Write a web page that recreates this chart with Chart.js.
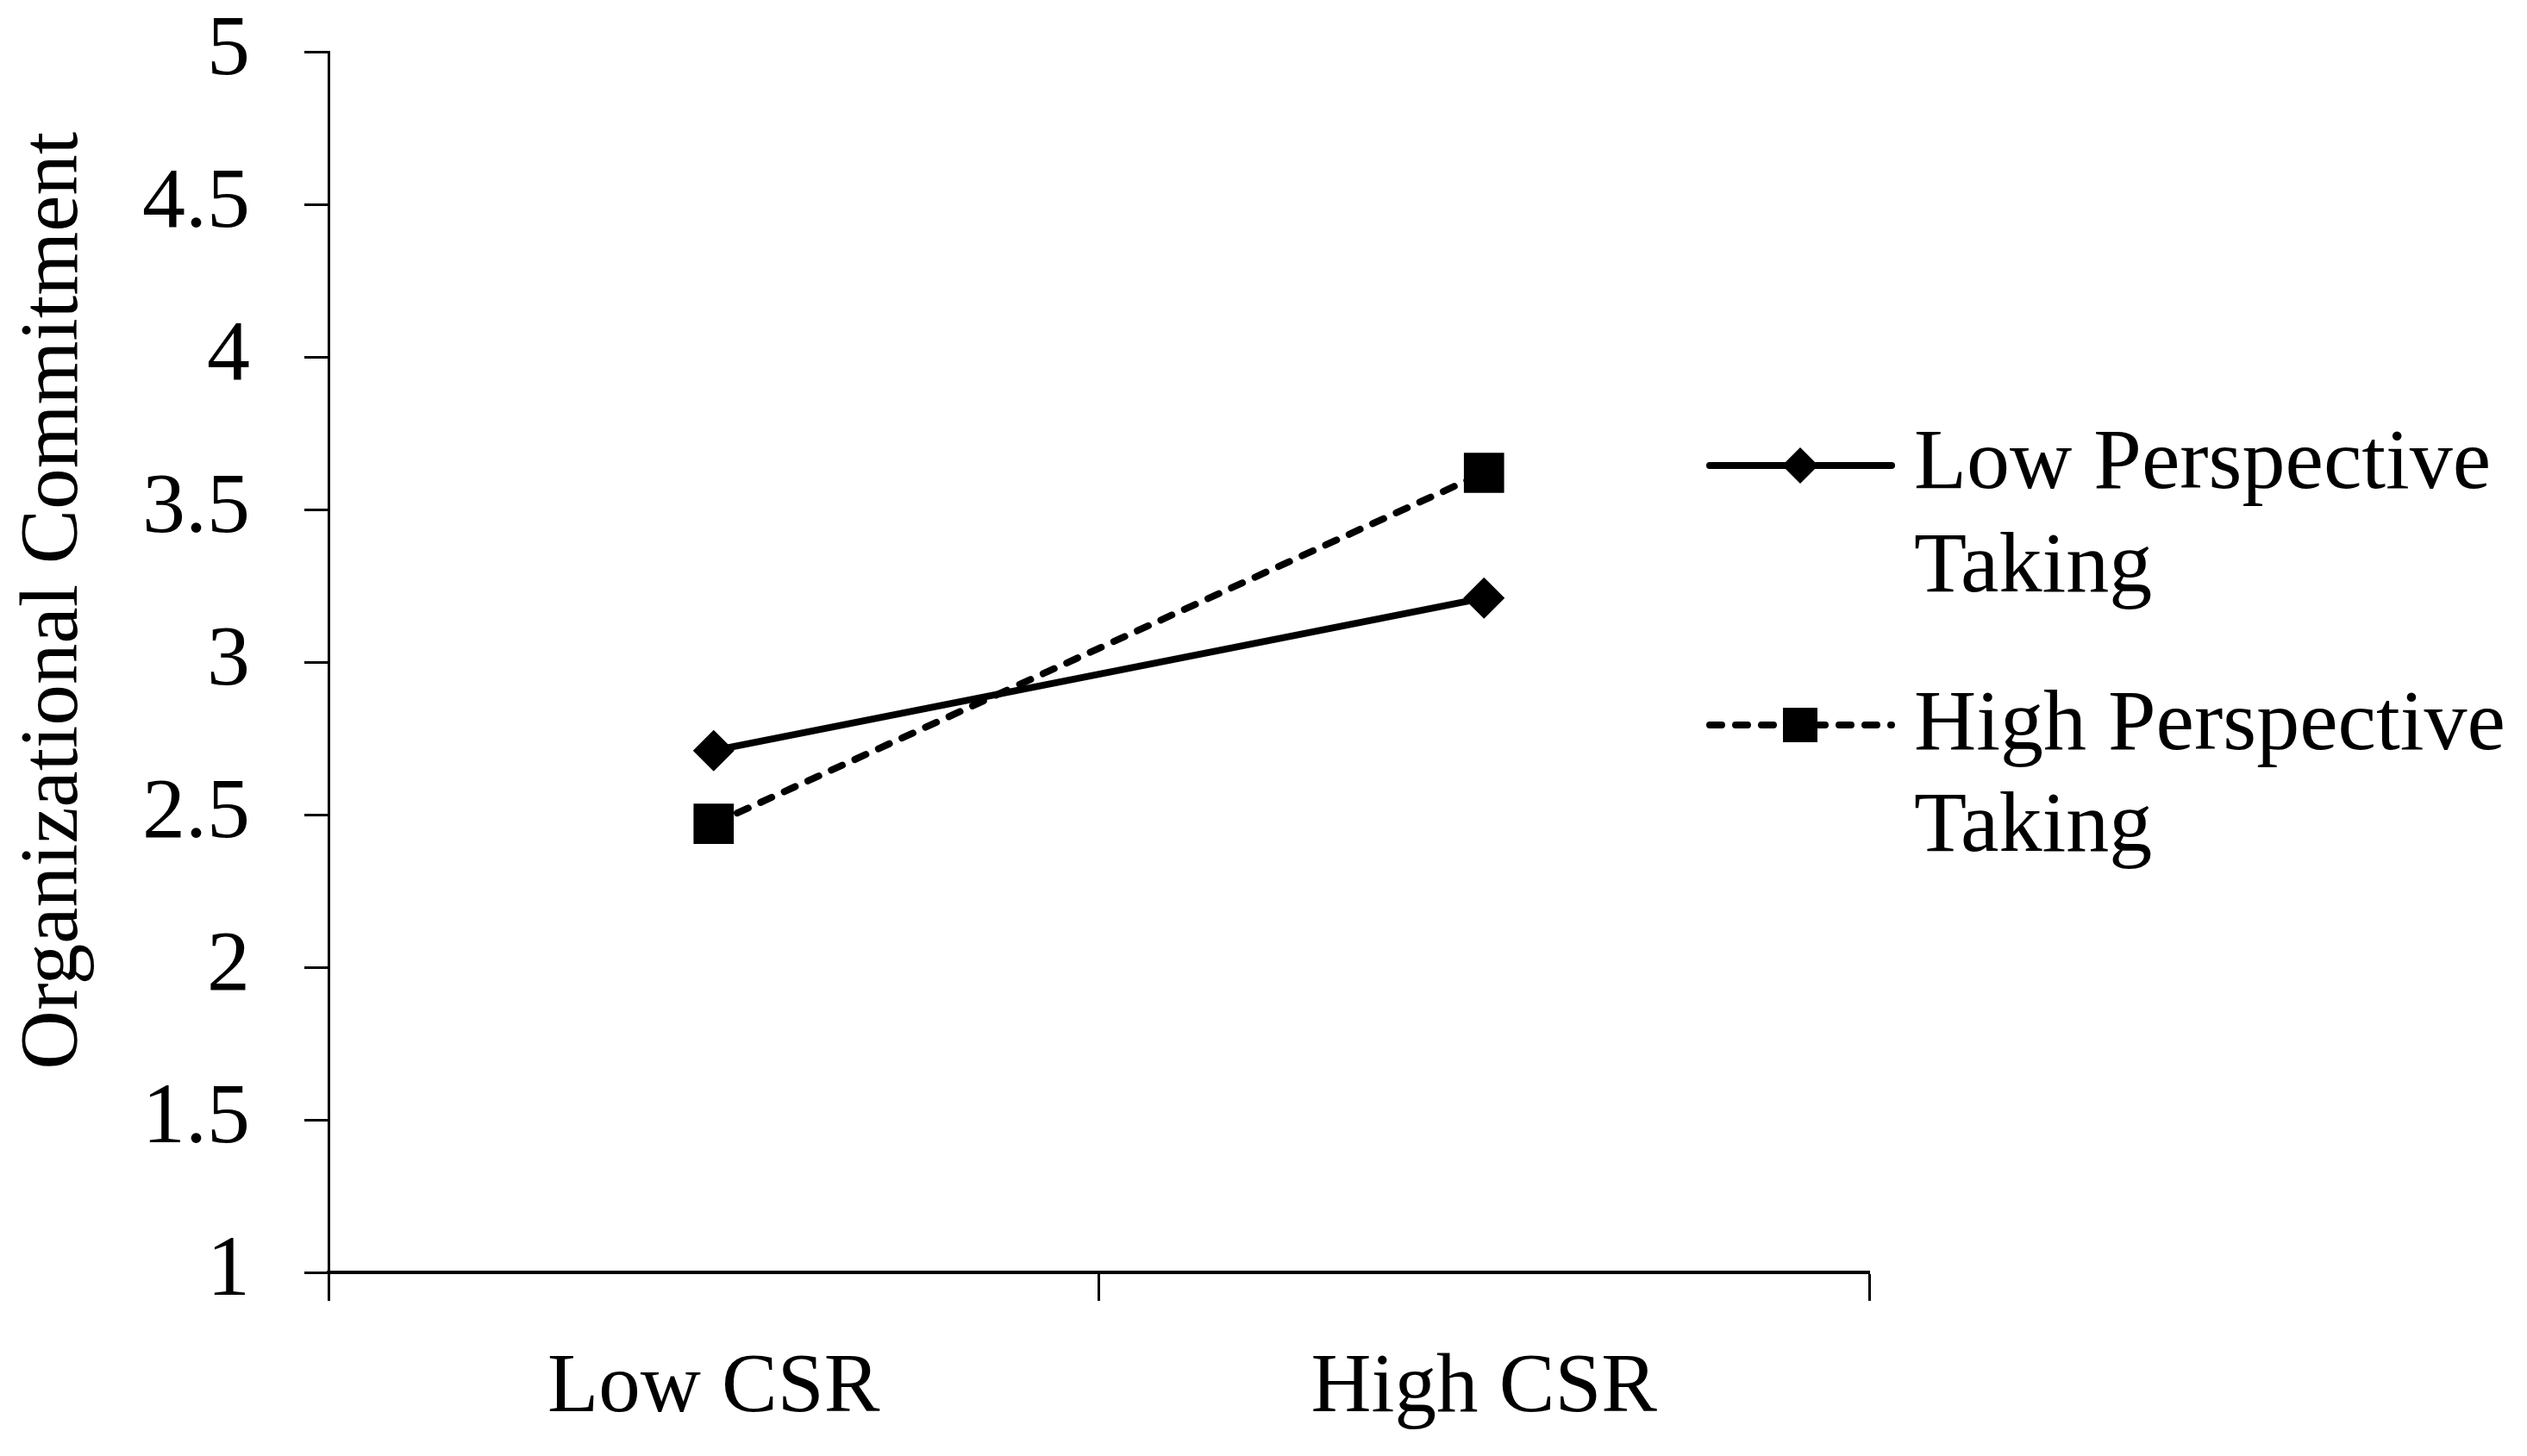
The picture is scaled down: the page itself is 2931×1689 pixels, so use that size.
<!DOCTYPE html>
<html>
<head>
<meta charset="utf-8">
<script src="https://cdn.jsdelivr.net/npm/chart.js@4/dist/chart.umd.min.js"></script>
<style>
  html, body { margin: 0; padding: 0; background: #fff; }
  #wrap { width: 2931px; height: 1689px; }
</style>
</head>
<body>
<div id="wrap"><canvas id="chart" width="2931" height="1689"></canvas></div>
<script>
// chart data
const categories = ['Low CSR', 'High CSR'];
const lowPT = [2.71, 3.21];
const highPT = [2.47, 3.62];
const seriesNames = ['Low Perspective Taking', 'High Perspective Taking'];
const legendLines = [['Low Perspective', 'Taking'], ['High Perspective', 'Taking']];
const yTicks = [1, 1.5, 2, 2.5, 3, 3.5, 4, 4.5, 5];
const yTickLabels = ['1', '1.5', '2', '2.5', '3', '3.5', '4', '4.5', '5'];
const yTitle = 'Organizational Commitment';

const FONT = "'Liberation Serif', 'Times New Roman', serif";

// legend drawn at the right, two lines per entry
const sideLegend = {
    id: 'sideLegend',
    afterDraw(chart) {
        const ctx = chart.ctx;
        const rows = [
            { y: 540, base: [566, 686] },
            { y: 841, base: [869, 987] }
        ];
        chart.data.datasets.forEach((ds, i) => {
            const r = rows[i];
            ctx.save();
            ctx.strokeStyle = ds.borderColor;
            ctx.lineWidth = 8;
            ctx.lineCap = 'round';
            ctx.setLineDash(ds.borderDash || []);
            ctx.beginPath();
            ctx.moveTo(1983, r.y);
            ctx.lineTo(2194, r.y);
            ctx.stroke();
            ctx.setLineDash([]);
            ctx.fillStyle = ds.pointBackgroundColor;
            ctx.beginPath();
            if(ds.pointStyle === 'rectRot') {
                ctx.moveTo(2088, r.y - 21);
                ctx.lineTo(2109, r.y);
                ctx.lineTo(2088, r.y + 21);
                ctx.lineTo(2067, r.y);
                ctx.closePath();
            } else {
                ctx.rect(2068, r.y - 20, 40, 40);
            }
            ctx.fill();
            ctx.fillStyle = '#000';
            ctx.font = '100px ' + FONT;
            ctx.textBaseline = 'alphabetic';
            ctx.textAlign = 'left';
            legendLines[i].forEach((t, k) => ctx.fillText(t, 2220, r.base[k]));
            ctx.restore();
        });
    }
};

new Chart(document.getElementById('chart').getContext('2d'), {
    type: 'line',
    data: {
        labels: categories,
        datasets: [{
            label: seriesNames[0],
            data: lowPT,
            borderColor: '#000',
            borderWidth: 8,
            pointStyle: 'rectRot',
            pointRadius: 24,
            pointBorderWidth: 0,
            pointBackgroundColor: '#000',
            tension: 0
        }, {
            label: seriesNames[1],
            data: highPT,
            borderColor: '#000',
            borderWidth: 8,
            borderDash: [14, 16],
            borderCapStyle: 'round',
            pointStyle: 'rect',
            pointRadius: 33,
            pointBorderWidth: 0,
            pointBackgroundColor: '#000',
            tension: 0
        }]
    },
    options: {
        responsive: false,
        devicePixelRatio: 1,
        animation: false,
        layout: { padding: { left: 0, right: 763, top: 60, bottom: 0 } },
        plugins: {
            legend: { display: false },
            tooltip: { enabled: false }
        },
        scales: {
            x: {
                type: 'category',
                offset: true,
                afterFit: (s) => { s.height = 213; },
                grid: {
                    offset: true,
                    drawOnChartArea: false,
                    drawTicks: true,
                    tickLength: 33,
                    tickWidth: 3,
                    tickColor: '#000'
                },
                border: { display: true, color: '#000', width: 4 },
                ticks: {
                    color: '#000',
                    padding: 44,
                    maxRotation: 0,
                    font: { family: FONT, size: 97 }
                }
            },
            y: {
                min: 1,
                max: 5,
                afterFit: (s) => {
                    s.width = 381;
                    s.paddingTop = 0;
                    s.paddingBottom = 0;
                },
                afterBuildTicks: (s) => { s.ticks = yTicks.map(v => ({ value: v })); },
                grid: {
                    drawOnChartArea: false,
                    drawTicks: true,
                    tickLength: 28,
                    tickWidth: 3,
                    tickColor: '#000'
                },
                border: { display: true, color: '#000', width: 3 },
                ticks: {
                    color: '#000',
                    padding: 63,
                    font: { family: FONT, size: 100 },
                    callback: (v) => yTickLabels[yTicks.indexOf(v)]
                },
                title: {
                    display: true,
                    text: '      ' + yTitle,
                    color: '#000',
                    padding: { top: 7, bottom: 0 },
                    font: { family: FONT, size: 95 }
                }
            }
        }
    },
    plugins: [sideLegend]
});
</script>
</body>
</html>
